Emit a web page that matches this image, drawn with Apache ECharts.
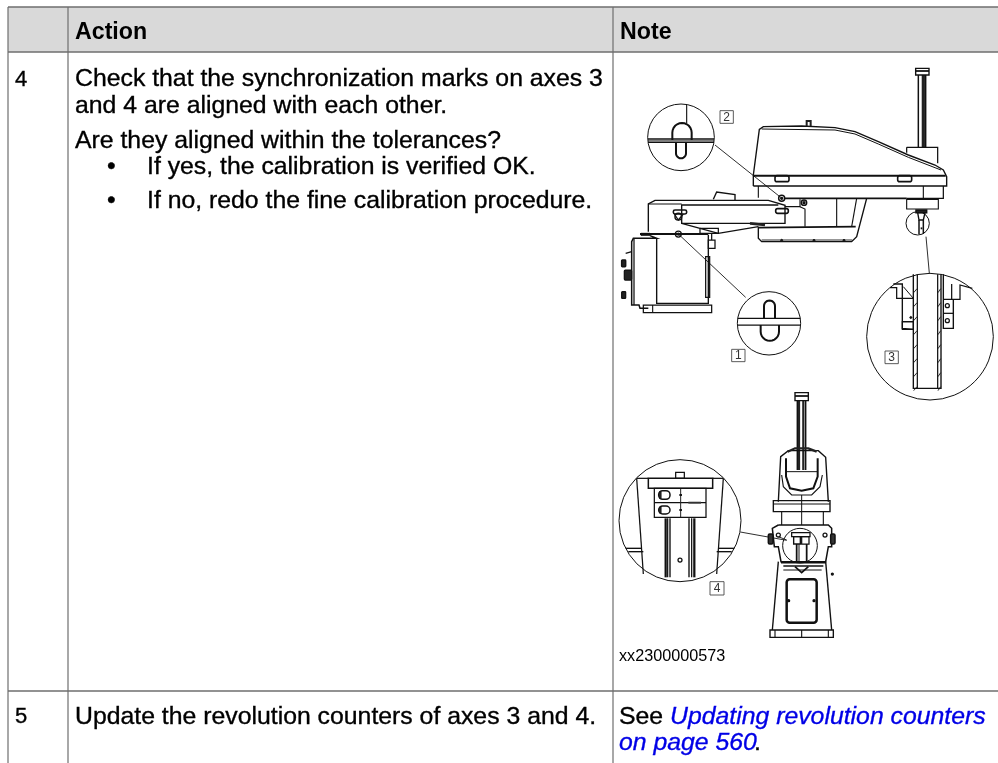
<!DOCTYPE html>
<html><head><meta charset="utf-8">
<style>html,body{margin:0;padding:0;background:#fff}#c{width:998px;height:763px}</style>
<script src="https://cdn.jsdelivr.net/npm/echarts@6/dist/echarts.min.js"></script></head>
<body><div id="c"></div>
<script>
const headers = ['Action', 'Note'];
const stepNumbers = ['4', '5'];
const step4Lines = ['Check that the synchronization marks on axes 3', 'and 4 are aligned with each other.', 'Are they aligned within the tolerances?'];
const step4Bullets = ['If yes, the calibration is verified OK.', 'If no, redo the fine calibration procedure.'];
const step5Action = 'Update the revolution counters of axes 3 and 4.';
const step5NotePrefix = 'See ';
const step5Link = ['Updating revolution counters', 'on page 560'];
const figureId = 'xx2300000573';
const callouts = ['1', '2', '3', '4'];

const FF = '"Liberation Sans", Arial, sans-serif';
const els = [];
const INK = '#111', LW = 0.9, K = 1.25;
const BODY = 24.8;
function text(t, x, y, o = {}) {
  els.push({type:'text', silent:true, z:10, style:{text:t, x, y, fill:o.fill||'#000',
    font:(o.style||'')+' '+(o.weight||'normal')+' '+(o.size||BODY)+'px '+FF, verticalAlign:'middle', align:o.align||'left',
    stroke:o.stroke||null, lineWidth:o.stroke?0.35:0}});
}
function rawLine(pts, w, c) { els.push({type:'polyline', silent:true, z:3, shape:{points:pts}, style:{stroke:c, lineWidth:w, fill:null}}); }
function rawRect(x,y,w,h,fill){ els.push({type:'rect', silent:true, z:1, shape:{x,y,width:w,height:h}, style:{fill}}); }

// table
rawRect(8,7,990,45,'#d9d9d9');
const G='#6e6e6e';
rawLine([[8,7],[998,7]],1.6,G); rawLine([[8,52],[998,52]],1.6,G); rawLine([[8,691],[998,691]],1.6,G);
rawLine([[8,7],[8,763]],1.2,G); rawLine([[68,7],[68,763]],1.2,G); rawLine([[613,7],[613,763]],1.2,G);
// texts
text(headers[0],75,33,{weight:'bold',size:23.2}); text(headers[1],620,33,{weight:'bold',size:23.2});
text(stepNumbers[0],15,80,{stroke:'#000',size:22}); text(stepNumbers[1],15,717,{stroke:'#000',size:22});
[79,106,141].forEach((y,i)=>text(step4Lines[i],75,y,{stroke:'#000'}));
[167,201].forEach((y,i)=>{ text('•',107,y,{stroke:'#000'}); text(step4Bullets[i],147,y,{stroke:'#000'}); });
text(step5Action,75,717,{stroke:'#000'});
text(step5NotePrefix,619,717,{stroke:'#000'});
text(step5Link[0],670,717,{fill:'#0000e6',style:'italic',stroke:'#0000e6'});
text(step5Link[1],619,743,{fill:'#0000e6',style:'italic',stroke:'#0000e6'});
text('.',754,743,{stroke:'#000'});
text(figureId,619,657,{size:16.2});

// line-art helpers, coordinates in a local drawing frame
let ox=615, oy=60;
const T=p=>[ox+p[0]/3, oy+p[1]/3];
function L(pts,w=LW,c=INK){ rawLine(pts.map(T),w*K,c); }
function C(cx,cy,r,w=LW,fill=null,c=INK){ const q=T([cx,cy]); els.push({type:'circle',silent:true,z:4,shape:{cx:q[0],cy:q[1],r:r/3},style:{stroke:c,lineWidth:w*K,fill}}); }
function R(x1,y1,x2,y2,w=LW,r=0,fill=null,c=INK){ const a=T([x1,y1]); els.push({type:'rect',silent:true,z:4,shape:{x:a[0],y:a[1],width:(x2-x1)/3,height:(y2-y1)/3,r:r/3},style:{stroke:c,lineWidth:w*K,fill}}); }
function U(x1,x2,yEnd,yC,dir,w=1.4){ const r=(x2-x1)/2, cx=(x1+x2)/2, pts=[[x1,yEnd]];
  for(let a=180;a>=0;a-=15){const t=a*Math.PI/180; pts.push([cx+r*Math.cos(t), yC+dir*r*Math.sin(t)]);}
  pts.push([x2,yEnd]); L(pts,w); }
function label(v,x1,y1,x2,y2){ R(x1,y1,x2,y2,0.7,0,null,'#444'); const q=T([(x1+x2)/2,(y1+y2)/2]); text(v,q[0],q[1]+0.5,{size:12,align:'center',fill:'#333'}); }

// --- side view ---
ox=615; oy=60;
// shaft
R(902,25,942,45,1.1); L([[902,33],[942,33]],1.4); L([[910,45],[910,262]],1.2); L([[932,45],[932,262]],1.2); L([[925,45],[925,262]],2.6,'#222');
// upper housing
L([[415,378],[415,345],[433,208],[445,200],[560,198],[660,203],[720,215],[790,245],[880,285],[960,315],[985,330],[995,350],[995,378],[415,378]],1.1);
L([[440,207],[660,210],[720,222],[790,252],[880,292],[978,330]],0.8);
L([[415,347],[992,347]],1.6);
R(480,347,522,365,1.3,6); R(848,347,890,365,1.3,6);
L([[875,262],[968,262],[968,310]],1); L([[875,262],[875,278]],1);
L([[575,198],[575,183],[587,183],[587,198]],1.6,'#222');
L([[430,378],[430,413]]); L([[925,378],[925,415]]); L([[985,378],[985,415],[875,415]],1);
L([[510,415],[875,415]],1.4);
R(875,418,970,447,0.9); 
// lower body
L([[430,500],[430,535],[440,545],[710,545],[725,530],[755,415]],1.1);
L([[430,503],[722,500]],1.4); L([[440,540],[712,540]],0.7); L([[665,415],[665,500]]); L([[725,415],[710,500]]);
[500,597,687].forEach(x=>C(x,541,3,0.8,'#222'));
// second arm
L([[100,515],[100,432],[120,421],[460,421],[510,436],[510,490],[200,490],[200,435],[490,435]],1.1);
L([[100,432],[200,432]]); L([[510,440],[555,440],[555,418]],0.9); L([[555,440],[570,447],[570,500]],0.9);
L([[295,418],[305,396],[360,404],[360,420]],1.1);
L([[200,490],[255,505],[310,520],[430,500]],1); L([[255,505],[255,520],[310,520],[310,505],[255,505]],1); L([[405,490],[450,495]],2.2,'#222');
R(482,446,520,460,1.3,6); R(175,450,215,462,1.3,5); C(190,470,10,1.2);L([[178,462],[190,480],[205,462]],1);
C(500,415,9,1.2); C(500,415,3,1,'#111'); C(567,428,8,1.2); C(567,428,3,1,'#111'); C(190,522,9,1); C(190,522,3,1,'#111');
// base
L([[75,522],[280,522]],1.6); R(78,520,105,526,0.8);
L([[105,527],[125,535],[55,535],[50,545],[50,735],[72,735],[75,745],[100,745]],1.2);
L([[125,535],[125,730],[280,730],[280,525]],1.1); L([[57,535],[57,735]],1);
R(85,735,290,758,1); L([[113,735],[113,758]]); 
R(20,600,32,620,1.2,2,'#222'); L([[32,580],[50,575]],1); R(28,630,50,660,1,3,'#222'); R(20,695,32,715,1,2,'#222');
R(272,590,284,712,1); R(280,540,300,565,1,0,null); L([[290,520],[290,540]],1);
// leaders
L([[300,255],[497,412]],0.7); L([[190,522],[392,712]],0.7); L([[933,530],[943,640]],0.7);
// detail circles
C(198,232,100,0.8); L([[215,133],[215,190]]);
L([[99,237],[297,237]],1.2); L([[99,242],[297,242]],0.8,'#666'); L([[99,247],[297,247]],1.2);
U(172,230,240,218,-1,1.6); U(183,213,248,280,1,1.6);
C(462,790,95,0.8); L([[368,775],[556,775]],1); L([[368,795],[556,795]],1);
U(447,480,775,738,-1,1.6); U(437,492,795,815,1,1.6);
C(908,490,35,0.8); R(903,450,935,458,1.2,0,'#222'); L([[908,458],[930,458],[925,480],[912,480],[908,458]],1.1); L([[912,480],[912,522]],1.2); L([[925,480],[925,522]],1.2); L([[917,505],[922,505]],1.5);
C(945,830,190,0.8);
L([[895,643],[895,985],[978,985],[978,643]],1.1); L([[907,643],[907,985]],1); L([[968,643],[968,985]],1);
for(let y=690;y<985;y+=42){ L([[896,y+8],[906,y-4]],0.7); L([[969,y+8],[977,y-4]],0.7); }
L([[825,683],[845,683],[845,715],[895,715]],1); L([[835,672],[862,672],[862,805],[895,808]],1.1); L([[862,785],[895,785]],1); R(862,785,895,808,1,0);
L([[865,680],[895,715]],0.8); L([[885,770],[890,775]],2);
L([[985,643],[985,805],[1015,805],[1015,718]],1.1); L([[985,718],[1035,718],[1035,675],[1072,685]],1); L([[1010,672],[1010,718]],1);
L([[985,760],[1015,760]],1); C(997,737,6,1); C(997,782,6,1);
label(callouts[1],315,152,355,190); label(callouts[0],350,868,390,905); label(callouts[2],810,873,850,911);

// --- front view ---
ox=615; oy=380;
R(540,38,580,62,1.1); L([[540,48],[580,48]],1.4); L([[547,62],[547,270]],1.2); L([[552,62],[552,270]],1.8,'#222'); L([[565,62],[565,270]],1.8,'#222'); L([[572,62],[572,270]],1.2);
L([[490,365],[497,230],[520,212],[610,212],[632,232],[640,365]],1.1);
L([[518,215],[540,205],[580,205],[605,215]],1.8,'#222');
L([[513,235],[513,290],[525,325],[560,332],[595,325],[608,290],[608,235]],1.6);
L([[500,285],[505,320],[530,345],[590,345],[615,320],[622,285]],0.9); L([[513,275],[608,275]],0.8);
R(475,362,645,395,1.1); L([[475,372],[645,372]],0.8); L([[560,345],[560,435]],0.8);
L([[500,395],[500,435]]); L([[625,395],[625,435]]);
L([[490,435],[640,435],[650,445],[650,500],[640,500],[632,545],[498,545],[490,500],[478,500],[472,445],[490,435]],1.2);
R(460,462,474,492,1.2,4,'#333'); R(647,462,660,492,1.2,4,'#333');
C(555,497,52,0.8);
R(530,458,585,470,1,0); R(536,470,556,492,1.1); R(560,470,582,492,1); L([[545,492],[545,545]],1.4); L([[575,492],[575,545]],1.4); L([[552,492],[552,545]],0.8);
L([[515,480],[490,470]],0.7); C(490,465,6,1); C(630,465,6,1);
L([[498,548],[632,548]],1.2); L([[505,558],[625,558]],1.2); L([[540,560],[560,578],[580,560]],1.4); L([[505,570],[620,570]],0.8);
L([[490,545],[472,750]],1.1); L([[632,545],[650,750]],1.1); C(652,582,3,1,'#222');
R(465,750,655,772,1.1); L([[480,750],[480,772]]); L([[560,750],[560,772]]); L([[640,750],[640,772]]);
R(515,598,605,728,2,9); C(521,662,3,1,'#111'); C(597,662,3,1,'#111');
// detail circle 4
C(195,422,183,0.8);
R(182,277,208,295,1); R(100,295,293,325,1.2); R(118,325,273,412,1);
L([[118,368],[273,368]],1); L([[197,325],[197,412]],0.8,'#222');
L([[220,368],[258,368]],1.5,'#333');L([[193,345],[201,345]],1.5);L([[193,390],[201,390]],1.5);
R(131,332,165,358,1.2,12); R(131,378,165,402,1.2,12);
L([[136,334],[136,356]],2,'#222'); L([[136,380],[136,400]],2,'#222');
L([[152,415],[152,592]],1.8); L([[158,415],[158,592]],1); L([[165,415],[165,592]],1.1);
L([[222,415],[222,592]],1.1); L([[230,415],[230,592]],1); L([[238,415],[238,592]],1.8);
C(195,540,6,1);
L([[65,295],[85,582]],1); L([[325,295],[305,582]],1); L([[65,295],[100,295]],1); L([[293,295],[325,295]],1);
L([[32,505],[80,505]],1.1); L([[40,515],[85,515]],1.1); L([[310,505],[358,505]],1.1); L([[305,515],[350,515]],1.1);
L([[376,456],[515,481]],0.7);
label(callouts[3],285,605,327,645);

const chart = echarts.init(document.getElementById('c'),null,{renderer:'canvas'});
chart.setOption({animation:false, backgroundColor:'#fff', graphic:{elements:els}});
</script></body></html>
